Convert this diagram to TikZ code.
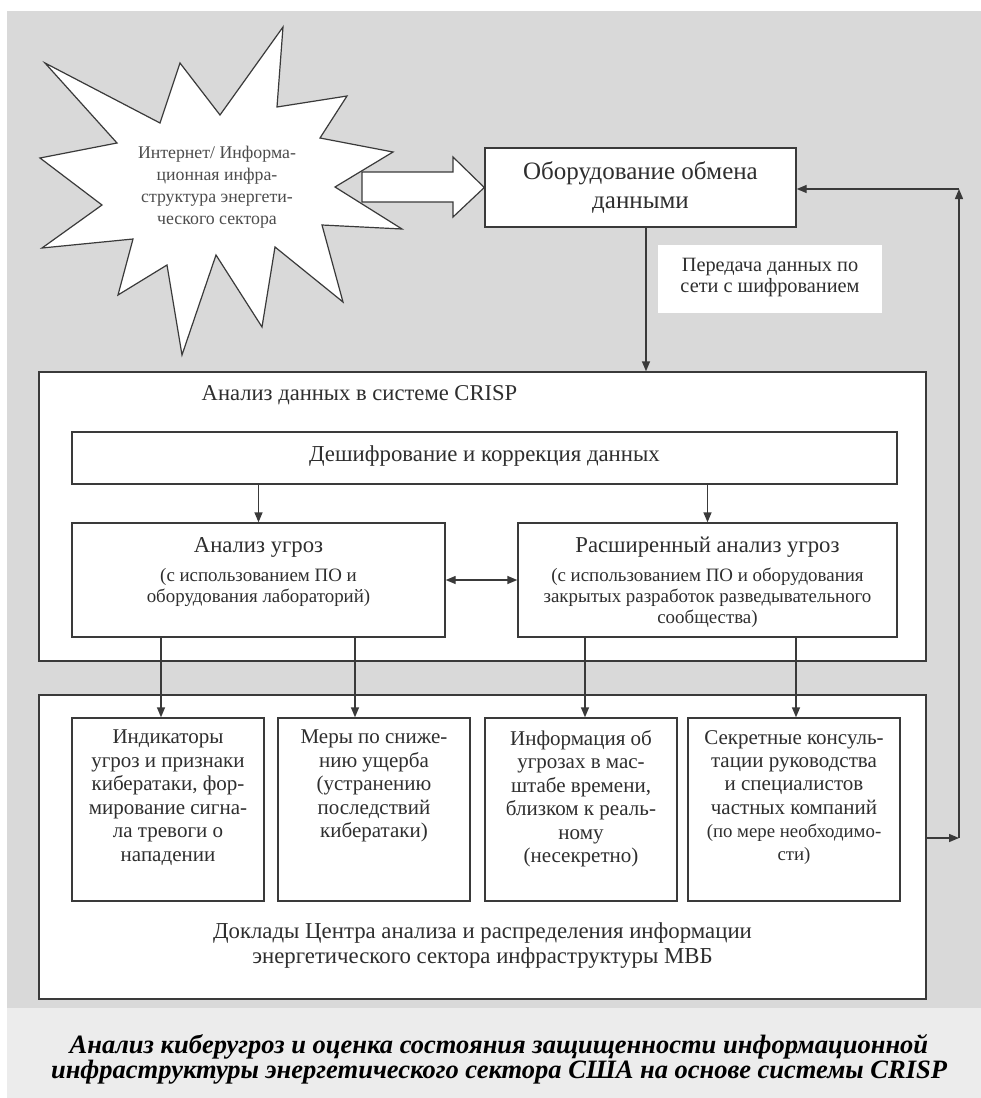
\documentclass[tikz,border=0pt]{standalone}
\usepackage{fontspec}
\setmainfont{Liberation Serif}
\usetikzlibrary{arrows.meta}
\definecolor{bggrey}{HTML}{D9D9D9}
\definecolor{capgrey}{HTML}{ECECEC}
\definecolor{linec}{HTML}{3A3A3A}
\definecolor{txtc}{HTML}{2E2E2E}
\tikzset{
  box/.style={draw=linec, line width=1.4pt, fill=white, inner sep=0pt, rectangle},
  txt/.style={text=txtc, align=center, inner sep=0pt},
  arr/.style={draw=linec, line width=1.4pt, -{Triangle[length=10pt,width=8pt]}},
  darr/.style={draw=linec, line width=1.4pt, {Triangle[length=10pt,width=8pt]}-{Triangle[length=10pt,width=8pt]}},
}
\begin{document}
\begin{tikzpicture}[x=1pt,y=-1pt]
\useasboundingbox (0,0) rectangle (981,1098);
\fill[white] (0,0) rectangle (981,1098);
\fill[bggrey] (7,11) rectangle (981,1008);
\fill[capgrey] (7,1008) rectangle (981,1098);

% star
\draw[linec, line width=1.2pt, fill=white]
 (45,63) -- (160,123) -- (180,63) -- (220,115) -- (283,27) -- (277,107) -- (347,96) -- (320,138)
 -- (393,152) -- (335,187) -- (402,229) -- (322,225) -- (343,302) -- (275,247) -- (262,327)
 -- (216,255) -- (182,355) -- (167,265) -- (118,295) -- (133,239) -- (42,248) -- (102,205)
 -- (40,158) -- (117,143) -- cycle;
\node[txt, text=black!70, font=\fontsize{17.8}{22}\selectfont] (startxt) at (217,187)
 {Интернет/ Информа-\\ционная инфра-\\структура энергети-\\ческого сектора};

% data exchange box
\node[box, minimum width=311pt, minimum height=79pt] (dex) at (640.5,187.5) {};
\node[txt, font=\fontsize{25}{29}\selectfont] (dextxt) at (640.5,187.5) {Оборудование обмена\\данными};

% big arrow
\draw[linec, line width=1.2pt, fill=white]
 (362,172) -- (453,172) -- (453,157) -- (dex.west) -- (453,217) -- (453,202) -- (362,202) -- cycle;

% label
\node[fill=white, minimum width=224pt, minimum height=68pt, inner sep=0pt] (lbl) at (770,279) {};
\node[txt, font=\fontsize{20.3}{21.5}\selectfont] (lbltxt) at (770,277.5) {Передача данных по\\сети с шифрованием};

% CRISP
\node[box, minimum width=887pt, minimum height=289pt] (crisp) at (482.5,516.5) {};
\node[txt, font=\fontsize{22.6}{24}\selectfont] (crisptitle) at (359.5,395) {Анализ данных в системе CRISP};
\node[box, minimum width=825pt, minimum height=52pt] (dec) at (484.5,458) {};
\node[txt, font=\fontsize{22.8}{24}\selectfont] (dectxt) at (484.5,456) {Дешифрование и коррекция данных};
\node[box, minimum width=373pt, minimum height=114pt] (thr) at (258.5,580) {};
\node[box, minimum width=379pt, minimum height=114pt] (ext) at (707.5,580) {};
\node[txt, font=\fontsize{22.7}{24}\selectfont] (thrt) at (258.5,547) {Анализ угроз};
\node[txt, font=\fontsize{18.9}{21}\selectfont] (thrs) at (258.5,587) {(с использованием ПО и\\оборудования лабораторий)};
\node[txt, font=\fontsize{22.7}{24}\selectfont] (extt) at (707.5,547) {Расширенный анализ угроз};
\node[txt, font=\fontsize{18.9}{21}\selectfont] (exts) at (707.5,597.5) {(с использованием ПО и оборудования\\закрытых разработок разведывательного\\сообщества)};

% reports
\node[box, minimum width=887pt, minimum height=304pt] (rep) at (482.5,847) {};
\node[box, minimum width=192pt, minimum height=183pt] (b1) at (168,809.5) {};
\node[box, minimum width=192pt, minimum height=183pt] (b2) at (374,809.5) {};
\node[box, minimum width=192pt, minimum height=183pt] (b3) at (581,809.5) {};
\node[box, minimum width=212pt, minimum height=183pt] (b4) at (794,809.5) {};
\node[txt, anchor=north, font=\fontsize{21}{23.5}\selectfont] (b1t) at (168,730)
 {Индикаторы\\угроз и признаки\\кибератаки, фор-\\мирование сигна-\\ла тревоги о\\нападении};
\node[txt, anchor=north, font=\fontsize{21}{23.5}\selectfont] (b2t) at (374,730)
 {Меры по сниже-\\нию ущерба\\(устранению\\последствий\\кибератаки)};
\node[txt, anchor=north, font=\fontsize{21}{23.5}\selectfont] (b3t) at (581,730)
 {Информация об\\угрозах в мас-\\штабе времени,\\близком к реаль-\\ному\\(несекретно)};
\node[txt, anchor=north, font=\fontsize{21}{23.3}\selectfont] (b4t) at (794,730)
 {Секретные консуль-\\тации руководства\\и специалистов\\частных компаний\\{\fontsize{18.8}{22.5}\selectfont(по мере необходимо-}\\{\fontsize{18.8}{22}\selectfont сти)}};
\node[txt, font=\fontsize{22.8}{25}\selectfont] (reptxt) at (482.5,945.5)
 {Доклады Центра анализа и распределения информации\\энергетического сектора инфраструктуры МВБ};

% caption
\node[txt, text=black, font=\fontsize{26.5}{25}\selectfont\bfseries\itshape] (cap) at (499,1059.5)
 {Анализ киберугроз и оценка состояния защищенности информационной\\инфраструктуры энергетического сектора США на основе системы CRISP};

% connectors
\coordinate (ax0) at (646,0);
\coordinate (a1) at (161,0);
\coordinate (a2) at (355,0);
\coordinate (a3) at (585,0);
\coordinate (a4) at (796,0);
\coordinate (fb1) at (959,838);
\coordinate (fb2) at (959,189);
\draw[arr] (dex.south -| ax0) -- (crisp.north -| ax0);
\draw[arr] (dec.south -| thr.north) -- (thr.north);
\draw[arr] (dec.south -| ext.north) -- (ext.north);
\draw[darr] (thr.east) -- (ext.west);
\draw[arr] (thr.south -| a1) -- (b1.north -| a1);
\draw[arr] (thr.south -| a2) -- (b2.north -| a2);
\draw[arr] (ext.south -| a3) -- (b3.north -| a3);
\draw[arr] (ext.south -| a4) -- (b4.north -| a4);
\draw[arr] (rep.east |- fb1) -- (fb1);
\draw[arr] (fb1) -- (fb2);
\draw[arr] (fb2) -- (fb2 -| dex.east);
\end{tikzpicture}
\end{document}
